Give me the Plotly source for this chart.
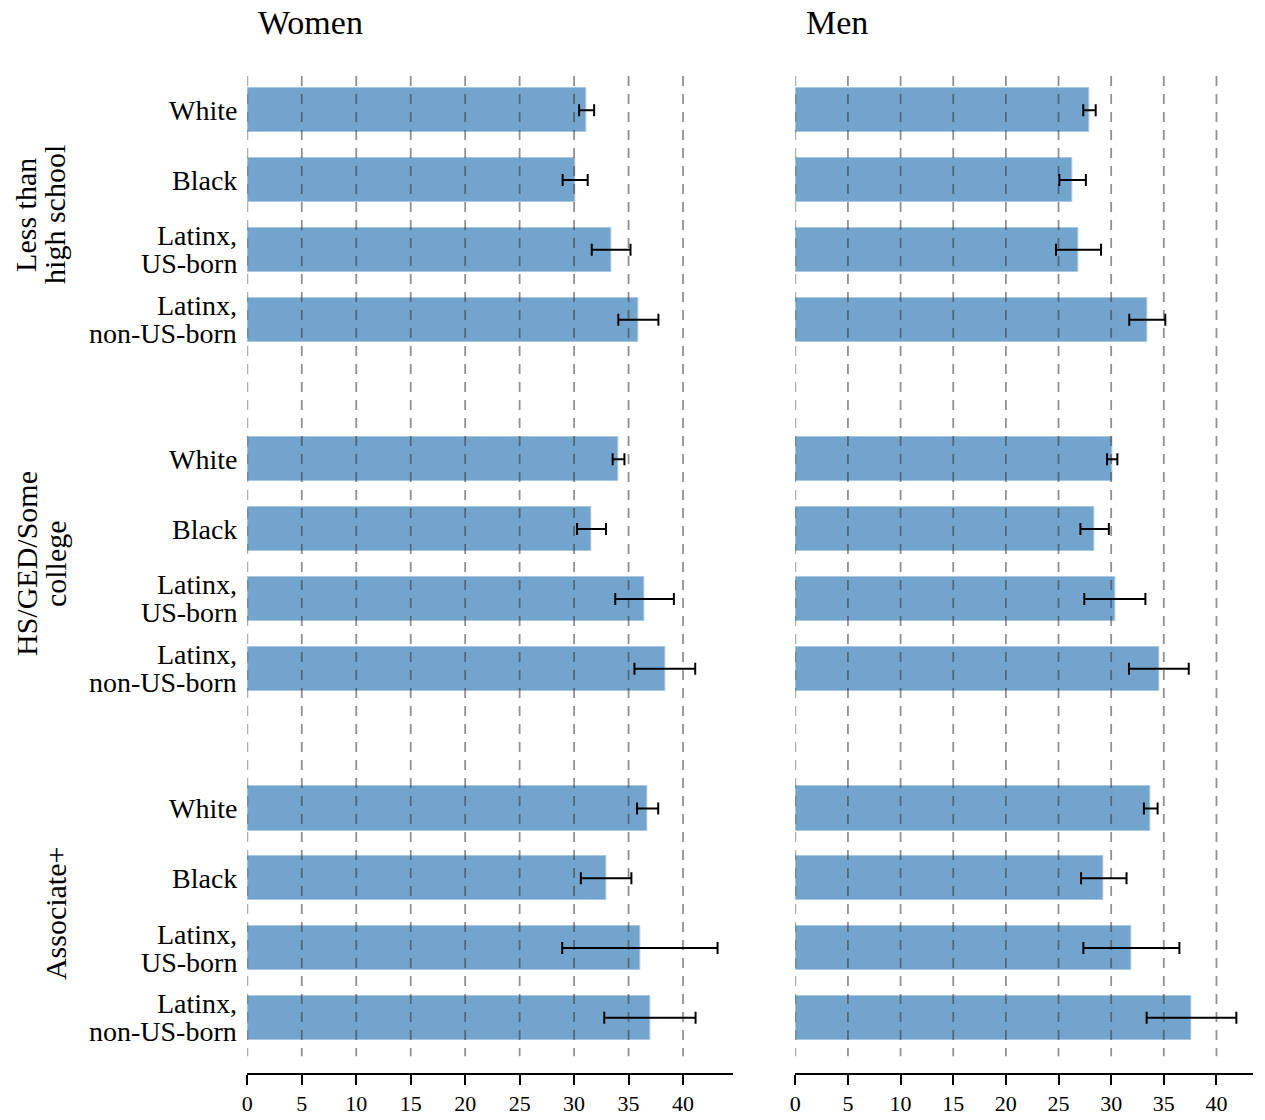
import plotly.graph_objects as go

W, H = 1265, 1120
SERIF = "Liberation Serif, Times New Roman, serif"

# Education groups (label lines as set in the rotated side labels)
edu_lines = [["Less than", "high school"], ["HS/GED/Some", "college"], ["Associate+"]]
# Race/ethnicity rows (label lines)
race_lines = [["White"], ["Black"], ["Latinx,", "US-born"], ["Latinx,", "non-US-born"]]

# Women: means and half-widths of the confidence intervals, per education group
women_lths = [31.15, 30.10, 33.40, 35.90]
women_lths_err = [0.69, 1.15, 1.78, 1.84]
women_hs = [34.08, 31.60, 36.47, 38.33]
women_hs_err = [0.54, 1.33, 2.69, 2.79]
women_assoc = [36.75, 32.94, 36.04, 36.96]
women_assoc_err = [0.97, 2.32, 7.13, 4.19]

# Men
men_lths = [27.94, 26.34, 26.90, 33.43]
men_lths_err = [0.59, 1.26, 2.14, 1.71]
men_hs = [30.10, 28.43, 30.35, 34.53]
men_hs_err = [0.49, 1.35, 2.90, 2.84]
men_assoc = [33.76, 29.30, 31.92, 37.63]
men_assoc_err = [0.65, 2.16, 4.56, 4.26]

panel_titles = ["Women", "Men"]
x_ticks = [0, 5, 10, 15, 20, 25, 30, 35, 40]

panels = [
    (women_lths + women_hs + women_assoc,
     women_lths_err + women_hs_err + women_assoc_err),
    (men_lths + men_hs + men_assoc,
     men_lths_err + men_hs_err + men_assoc_err),
]

# one blank row between education groups
n_race = len(race_lines)
rows = [g * (n_race + 1) + r for g in range(len(edu_lines)) for r in range(n_race)]

BAR = "#72a4cd"
fig = go.Figure()

for i, (vals, errs) in enumerate(panels):
    xa = "x" if i == 0 else "x2"
    ya = "y" if i == 0 else "y2"
    fig.add_trace(go.Bar(
        x=vals, y=rows, orientation="h", width=0.635,
        marker=dict(color=BAR, line=dict(color="#a9c8e2", width=1)),
        xaxis=xa, yaxis=ya, showlegend=False, hoverinfo="x+y",
    ))
    # dashed reference lines at each tick, drawn over the bars
    gx, gy = [], []
    for t in x_ticks:
        gx += [t, t, None]
        gy += [-0.49, 13.55, None]
    fig.add_trace(go.Scatter(
        x=gx, y=gy, mode="lines", xaxis=xa, yaxis=ya, showlegend=False,
        line=dict(color="rgba(55,55,55,0.55)", width=1.8, dash="10px,8px"),
        hoverinfo="skip",
    ))
    # confidence intervals
    fig.add_trace(go.Scatter(
        x=vals, y=rows, mode="markers", xaxis=xa, yaxis=ya, showlegend=False,
        marker=dict(size=1, color="rgba(0,0,0,0)"),
        error_x=dict(type="data", array=errs, symmetric=True,
                     color="black", thickness=2, width=6),
    ))

y_dom = [1 - 1073 / H, 1 - 76 / H]
y_range = [13.79, -0.49]
xaxis_common = dict(
    automargin=False,
    showgrid=False, zeroline=False, showline=True, linewidth=2, linecolor="black",
    ticks="outside", ticklen=10, tickwidth=2, tickcolor="black",
    tickvals=x_ticks, ticktext=[str(t) for t in x_ticks],
    tickfont=dict(family=SERIF, size=22, color="black"),
)
yaxis_common = dict(
    automargin=False,
    range=y_range, domain=y_dom, showgrid=False, zeroline=False,
    showline=False, showticklabels=False, ticks="",
)

fig.update_layout(
    width=W, height=H, margin=dict(l=0, r=0, t=0, b=0, pad=0, autoexpand=False),
    paper_bgcolor="white", plot_bgcolor="white", bargap=0,
    xaxis=dict(domain=[247.3 / W, 732.7 / W], range=[0, 44.56], anchor="y", **xaxis_common),
    xaxis2=dict(domain=[795.3 / W, 1253.3 / W], range=[0, 43.5], anchor="y2", **xaxis_common),
    yaxis=dict(anchor="x", **yaxis_common),
    yaxis2=dict(anchor="x2", **yaxis_common),
    font=dict(family=SERIF, color="black"),
)

ann = []
# panel titles
for i, t in enumerate(panel_titles):
    left = 256 if i == 0 else 804
    ann.append(dict(text=t, x=left / W, y=1 - 22 / H, xref="paper", yref="paper",
                    xanchor="left", yanchor="middle", showarrow=False,
                    font=dict(family=SERIF, size=34, color="black")))

# row labels (left panel only)
for g in range(len(edu_lines)):
    for r, lines in enumerate(race_lines):
        pos = g * (n_race + 1) + r
        n = len(lines)
        for k, line in enumerate(lines):
            shift = (n - 1) / 2 * 28 - k * 28
            ann.append(dict(text=line, x=239 / W, y=pos, xref="paper", yref="y",
                            xanchor="right", yanchor="middle", yshift=shift,
                            showarrow=False,
                            font=dict(family=SERIF, size=28, color="black")))

# rotated education-group labels
for g, lines in enumerate(edu_lines):
    center = g * (n_race + 1) + (n_race - 1) / 2
    n = len(lines)
    for k, line in enumerate(lines):
        xc = 55 - 29 * (n - 1 - k)
        ann.append(dict(text=line, x=xc / W, y=center, xref="paper", yref="y",
                        xanchor="center", yanchor="middle", textangle=-90,
                        showarrow=False,
                        font=dict(family=SERIF, size=30, color="black")))

fig.update_layout(annotations=ann)
fig.write_html("out.html")
